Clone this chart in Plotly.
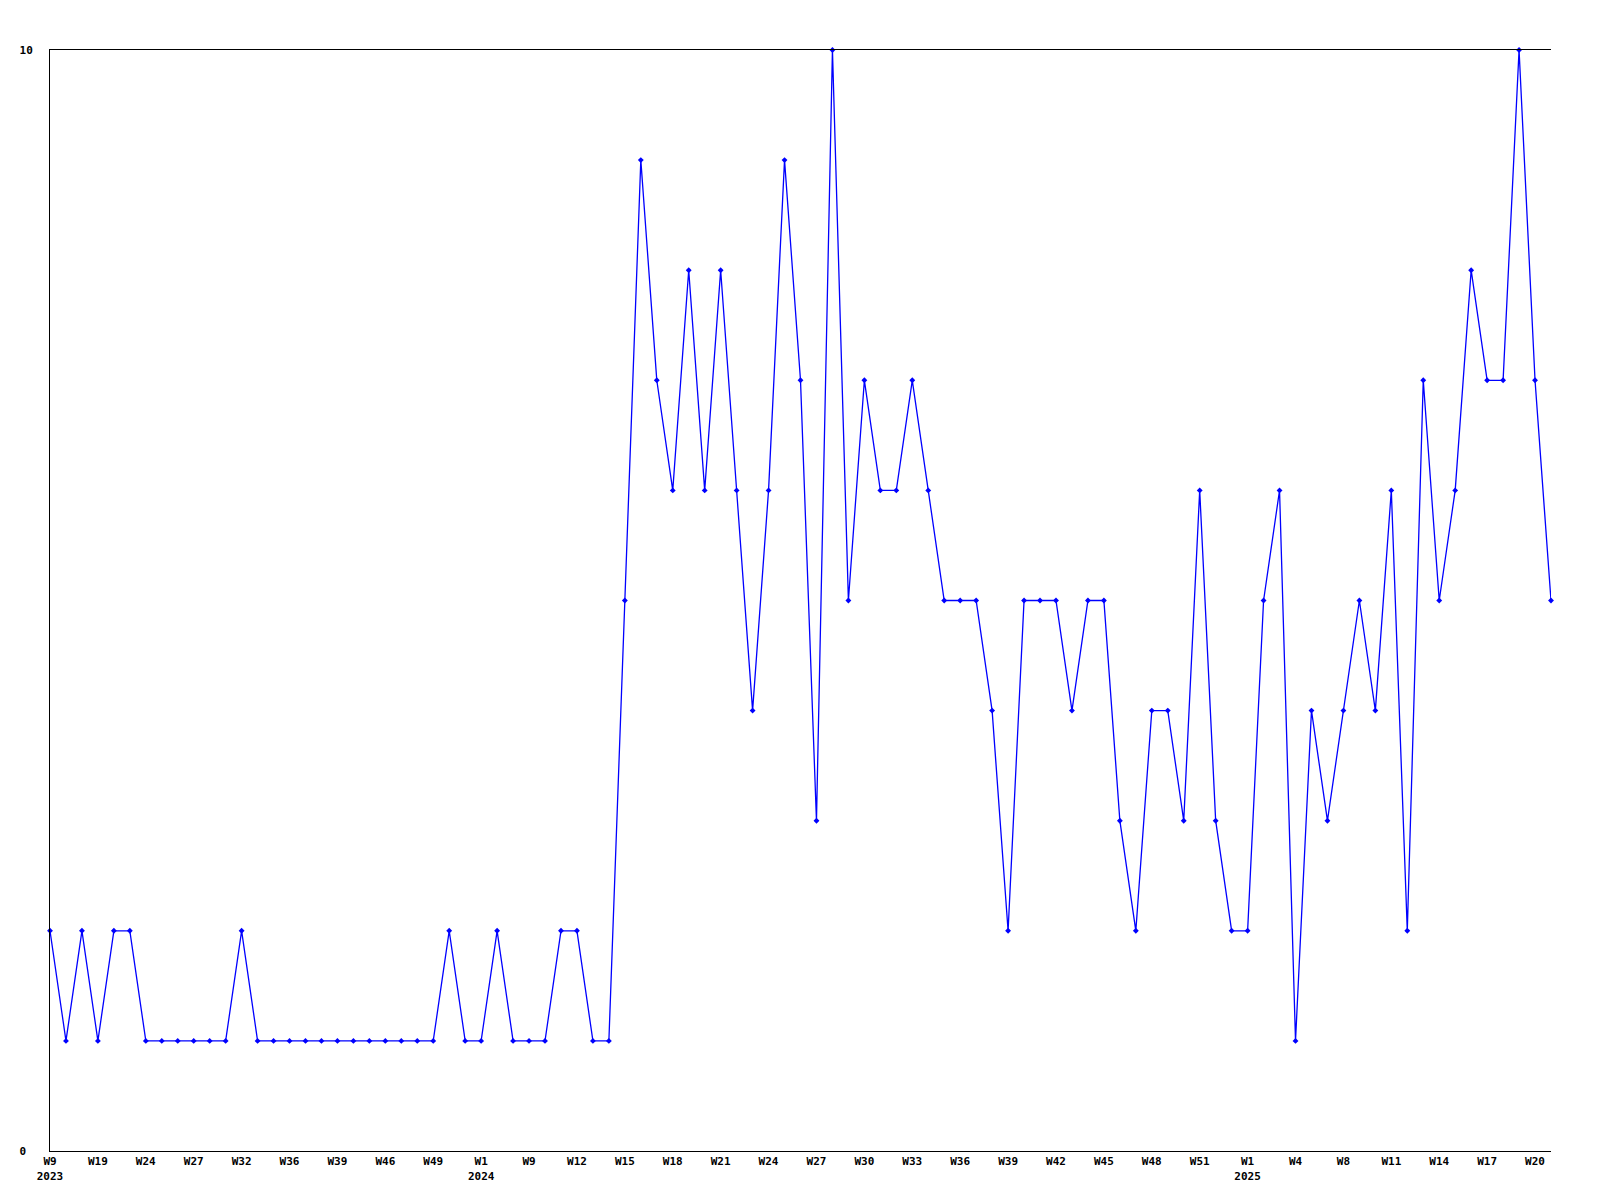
import plotly.graph_objects as go

weeks_2023 = ["2023-W09", "2023-W14", "2023-W17", "2023-W19", "2023-W21", "2023-W23", "2023-W24",
              "2023-W25", "2023-W26", "2023-W27", "2023-W29", "2023-W30", "2023-W32", "2023-W33",
              "2023-W35", "2023-W36", "2023-W37", "2023-W38", "2023-W39", "2023-W41", "2023-W43",
              "2023-W46", "2023-W47", "2023-W48", "2023-W49", "2023-W50", "2023-W51"]
weeks_2024 = ["2024-W01", "2024-W03", "2024-W06", "2024-W09", "2024-W10", "2024-W11", "2024-W12",
              "2024-W13", "2024-W14", "2024-W15", "2024-W16", "2024-W17", "2024-W18", "2024-W19",
              "2024-W20", "2024-W21", "2024-W22", "2024-W23", "2024-W24", "2024-W25", "2024-W26",
              "2024-W27", "2024-W28", "2024-W29", "2024-W30", "2024-W31", "2024-W32", "2024-W33",
              "2024-W34", "2024-W35", "2024-W36", "2024-W37", "2024-W38", "2024-W39", "2024-W40",
              "2024-W41", "2024-W42", "2024-W43", "2024-W44", "2024-W45", "2024-W46", "2024-W47",
              "2024-W48", "2024-W49", "2024-W50", "2024-W51", "2024-W52", "2024-W53"]
weeks_2025 = ["2025-W01", "2025-W02", "2025-W03", "2025-W04", "2025-W06", "2025-W07", "2025-W08",
              "2025-W09", "2025-W10", "2025-W11", "2025-W12", "2025-W13", "2025-W14", "2025-W15",
              "2025-W16", "2025-W17", "2025-W18", "2025-W19", "2025-W20", "2025-W21"]

weeks = weeks_2023 + weeks_2024 + weeks_2025

values = [2, 1, 2, 1, 2, 2, 1, 1, 1, 1, 1, 1, 2, 1, 1, 1, 1, 1, 1, 1,
          1, 1, 1, 1, 1, 2, 1, 1, 2, 1, 1, 1, 2, 2, 1, 1, 5, 9, 7, 6,
          8, 6, 8, 6, 4, 6, 9, 7, 3, 10, 5, 7, 6, 6, 7, 6, 5, 5, 5, 4,
          2, 5, 5, 5, 4, 5, 5, 3, 2, 4, 4, 3, 6, 3, 2, 2, 5, 6, 1, 4,
          3, 4, 5, 4, 6, 2, 7, 5, 6, 8, 7, 7, 10, 7, 5]

y_tick_vals = [0, 10]
y_tick_text = ["0\u00a0", "10"]

# tick labels: every third week, year added under the first week of each year
tick_vals = weeks[::3]
tick_text = []
seen_years = set()
for w in tick_vals:
    year, wk = w.split("-W")
    label = "W" + str(int(wk))
    if year not in seen_years:
        seen_years.add(year)
        label += "<br>" + year
    tick_text.append(label)

font = dict(family="DejaVu Sans Mono", size=11, color="black", weight="bold")

fig = go.Figure()
fig.add_trace(go.Scatter(
    x=weeks, y=values, mode="lines+markers",
    line=dict(color="#0000ff", width=1.3),
    marker=dict(symbol="diamond", size=4.5, color="#0000ff"),
    cliponaxis=False, showlegend=False,
))

fig.update_layout(
    width=1600, height=1200,
    paper_bgcolor="white", plot_bgcolor="white",
    margin=dict(l=50, r=49, t=50, b=49, pad=0),
    font=font,
    showlegend=False,
)
fig.update_xaxes(
    type="category", categoryorder="array", categoryarray=weeks,
    range=[0, len(weeks) - 1],
    tickmode="array", tickvals=tick_vals, ticktext=tick_text,
    showgrid=False, zeroline=False, ticks="",
    showline=True, linecolor="black", linewidth=1, mirror=True,
    tickfont=font, ticklabelstandoff=0,
)
fig.update_yaxes(
    range=[0, 10], tickmode="array", tickvals=y_tick_vals, ticktext=y_tick_text,
    showgrid=False, zeroline=False, ticks="",
    showline=True, linecolor="black", linewidth=1,
    tickfont=font, ticklabelstandoff=14,
)

fig.write_html(
    "out.html",
    config={"displayModeBar": False},
    post_script="document.body.style.margin='0';document.body.style.overflow='hidden';",
)
